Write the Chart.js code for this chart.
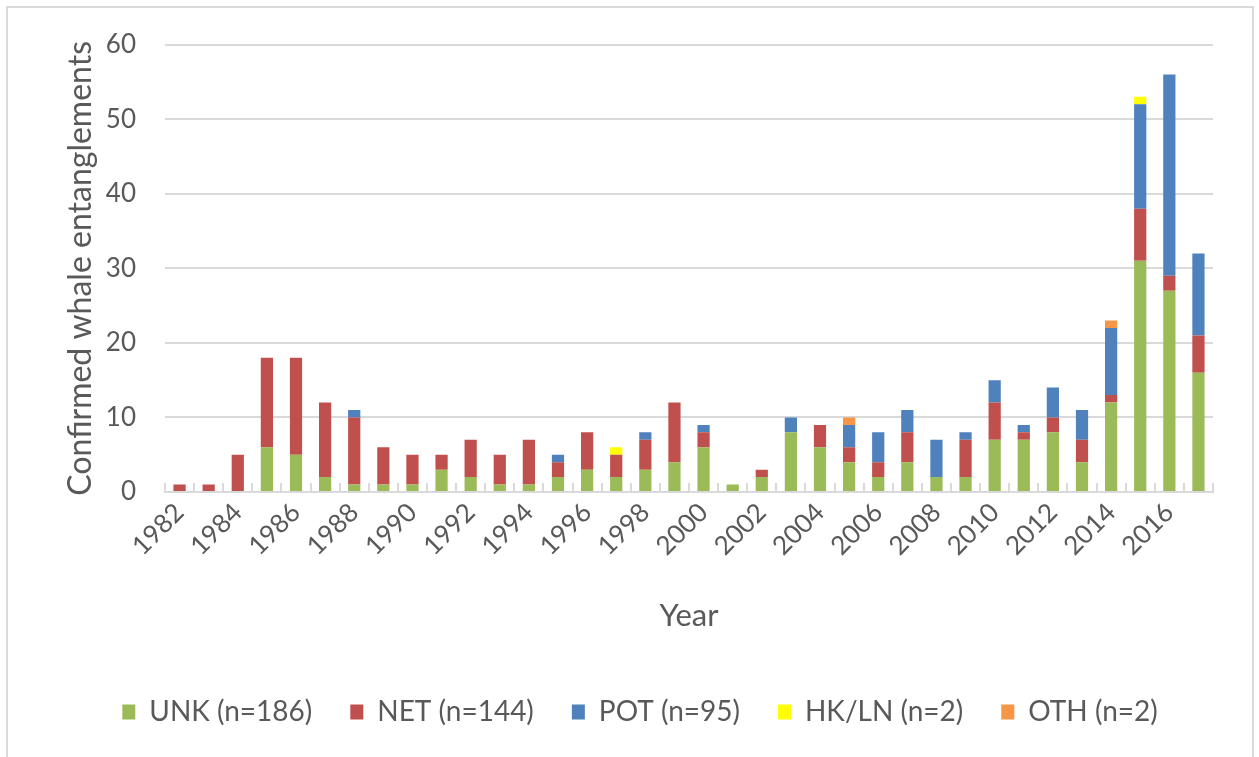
<!DOCTYPE html>
<html>
<head>
<meta charset="utf-8">
<script src="https://cdn.jsdelivr.net/npm/chart.js@4"></script>
<style>
  html, body { margin: 0; padding: 0; background: #fff; }
  #wrap { position: relative; width: 1259px; height: 757px; overflow: hidden; }
  #frame { position: absolute; left: 6px; top: 6px; width: 1248px; height: 800px; border: 2px solid #d9d9d9; box-sizing: border-box; }
  canvas { position: absolute; left: 0; top: 0; }
</style>
</head>
<body>
<div id="wrap">
  <div id="frame"></div>
  <canvas id="c" width="1259" height="757"></canvas>
</div>
<script>
const years = [];
for (let y = 1982; y <= 2017; y++) years.push(String(y));

const unk  = [0,0,0,6,5,2,1,1,1,3,2,1,1,2,3,2,3,4,6,1,2,8,6,4,2,4,2,2,7,7,8,4,12,31,27,16];
const net  = [1,1,5,12,13,10,9,5,4,2,5,4,6,2,5,3,4,8,2,0,1,0,3,2,2,4,0,5,5,1,2,3,1,7,2,5];
const pot  = [0,0,0,0,0,0,1,0,0,0,0,0,0,1,0,0,1,0,1,0,0,2,0,3,4,3,5,1,3,1,4,4,9,14,27,11];
const hkln = [0,0,0,0,0,0,0,0,0,0,0,0,0,0,0,1,0,0,0,0,0,0,0,0,0,0,0,0,0,0,0,0,0,1,0,0];
const oth  = [0,0,0,0,0,0,0,0,0,0,0,0,0,0,0,0,0,0,0,0,0,0,0,1,0,0,0,0,0,0,0,0,1,0,0,0];

const seriesNames = ['UNK (n=186)', 'NET (n=144)', 'POT (n=95)', 'HK/LN (n=2)', 'OTH (n=2)'];
const seriesColors = ['#9BBB59', '#C0504D', '#4F81BD', '#FFFF00', '#F79646'];
const seriesData = [unk, net, pot, hkln, oth];

const yTicks = [0, 10, 20, 30, 40, 50, 60];

const textColor = '#595959';
const gridColor = '#d9d9d9';
const FONT = 'Lato, "Open Sans", sans-serif';

const datasets = seriesNames.map((name, i) => ({
  label: name,
  data: seriesData[i],
  backgroundColor: seriesColors[i],
  borderWidth: 0,
  barPercentage: 0.42,
  categoryPercentage: 1.0
}));

new Chart(document.getElementById('c'), {
  type: 'bar',
  data: { labels: years, datasets },
  options: {
    responsive: false,
    animation: false,
    layout: { padding: { left: 67, right: 46, top: 36, bottom: 21 } },
    plugins: {
      tooltip: { enabled: false },
      legend: {
        position: 'bottom',
        labels: {
          color: textColor,
          font: { family: FONT, size: 28 },
          boxWidth: 13,
          boxHeight: 15,
          padding: 38
        }
      }
    },
    scales: {
      x: {
        stacked: true,
        grid: {
          offset: true,
          drawOnChartArea: false,
          color: gridColor,
          lineWidth: 2,
          tickLength: -9,
          tickColor: gridColor
        },
        border: { color: gridColor, width: 2 },
        ticks: {
          color: textColor,
          font: { family: FONT, size: 26 },
          minRotation: 45,
          maxRotation: 45,
          autoSkip: false,
          padding: 14,
          callback: function(v, i) { return i % 2 === 0 ? years[i] : ''; }
        },
        title: {
          display: true,
          text: 'Year',
          color: textColor,
          font: { family: FONT, size: 31 },
          padding: { top: 6, bottom: 25 }
        },
        afterFit: s => { s.height = 168; }
      },
      y: {
        stacked: true,
        min: 0,
        max: 60,
        grid: { color: gridColor, lineWidth: 2, drawTicks: false },
        border: { display: false },
        ticks: {
          color: textColor,
          font: { family: FONT, size: 26 },
          stepSize: 10,
          padding: 29,
          callback: v => yTicks.includes(v) ? String(v) : ''
        },
        title: {
          display: true,
          text: 'Confirmed whale entanglements',
          color: textColor,
          font: { family: FONT, size: 32 },
          padding: { top: -6, bottom: 0 }
        },
        afterFit: s => { s.width = 98; }
      }
    }
  }
});
</script>
</body>
</html>
